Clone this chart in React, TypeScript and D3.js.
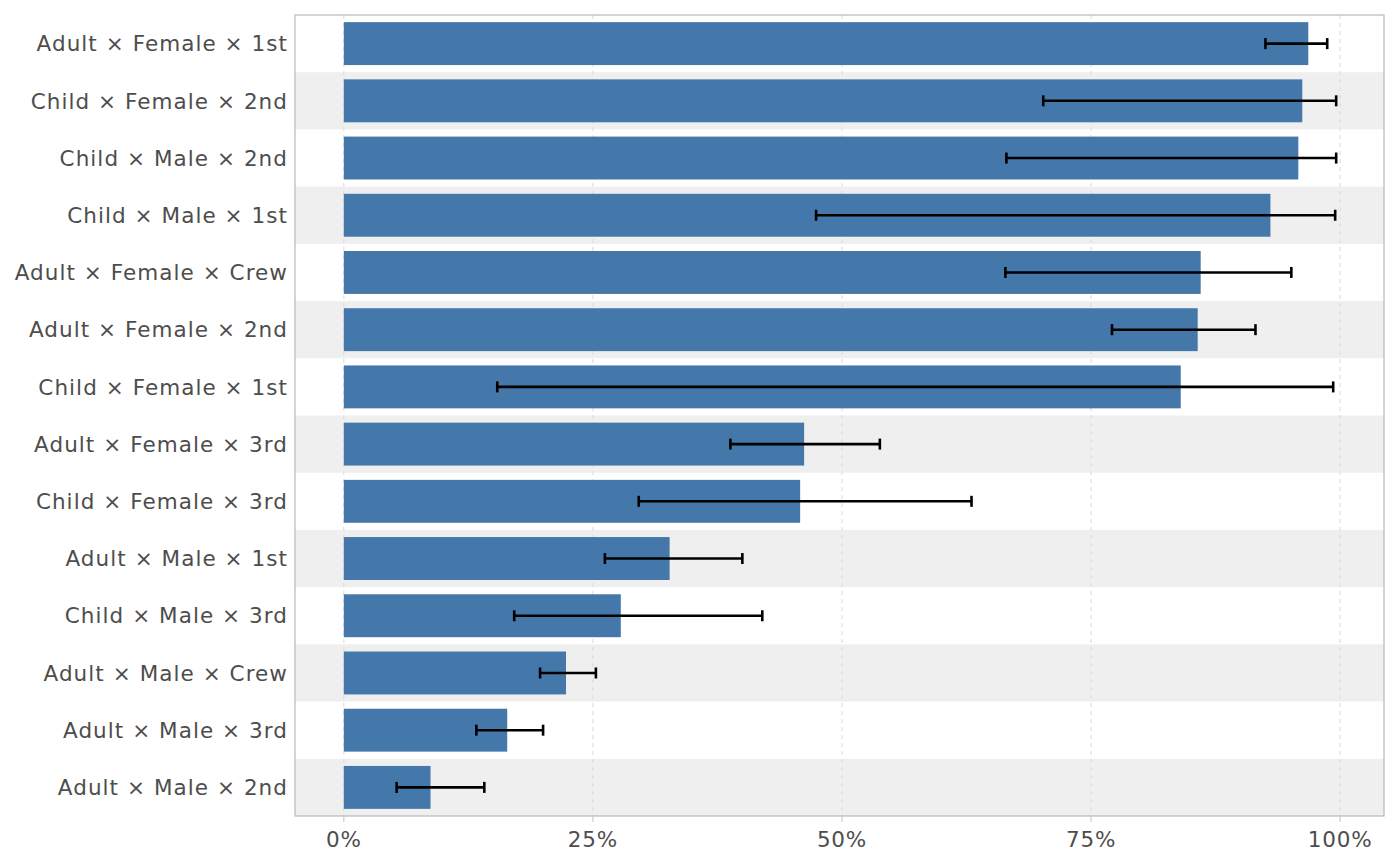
import { useRef, useEffect } from "react";
import * as d3 from "d3";

// groups, top to bottom
const groups = [
  "Adult × Female × 1st",
  "Child × Female × 2nd",
  "Child × Male × 2nd",
  "Child × Male × 1st",
  "Adult × Female × Crew",
  "Adult × Female × 2nd",
  "Child × Female × 1st",
  "Adult × Female × 3rd",
  "Child × Female × 3rd",
  "Adult × Male × 1st",
  "Child × Male × 3rd",
  "Adult × Male × Crew",
  "Adult × Male × 3rd",
  "Adult × Male × 2nd",
];
const rate = [0.968, 0.962, 0.958, 0.93, 0.86, 0.857, 0.84, 0.462, 0.458, 0.327, 0.278, 0.223, 0.164, 0.087];
const lower = [0.925, 0.702, 0.665, 0.474, 0.664, 0.771, 0.154, 0.388, 0.296, 0.262, 0.171, 0.197, 0.133, 0.053];
const upper = [0.987, 0.996, 0.996, 0.995, 0.951, 0.915, 0.993, 0.538, 0.63, 0.4, 0.42, 0.253, 0.2, 0.141];
const ticks = [0, 0.25, 0.5, 0.75, 1];

const W = 1400;
const H = 866;
const FONT = "DejaVu Sans, sans-serif";

export default function App() {
  const ref = useRef(null);

  useEffect(() => {
    const svg = d3.select(ref.current);
    svg.selectAll("*").remove();

    const left = 295, right = 1384, top = 15, bottom = 816;

    const x = d3.scaleLinear().domain([-0.049, 1.044]).range([left, right]);
    const y = d3.scaleBand().domain(groups).range([top, bottom]).padding(0);
    const bh = y.bandwidth() * 0.75;
    const rows = groups.map((g, i) => ({ g, v: rate[i], lo: lower[i], hi: upper[i], i }));

    // striped background
    svg
      .append("g")
      .selectAll("rect")
      .data(rows.filter((d) => d.i % 2 === 1))
      .join("rect")
      .attr("x", left)
      .attr("width", right - left)
      .attr("y", (d) => y(d.g))
      .attr("height", y.bandwidth())
      .attr("fill", "#efefef");

    // grid
    svg
      .append("g")
      .selectAll("line")
      .data(ticks)
      .join("line")
      .attr("x1", (d) => x(d))
      .attr("x2", (d) => x(d))
      .attr("y1", top)
      .attr("y2", bottom)
      .attr("stroke", "#dcdcdc")
      .attr("stroke-width", 1.1)
      .attr("stroke-dasharray", "4,4");

    // bars
    svg
      .append("g")
      .selectAll("rect")
      .data(rows)
      .join("rect")
      .attr("x", x(0))
      .attr("width", (d) => x(d.v) - x(0))
      .attr("y", (d) => y(d.g) + (y.bandwidth() - bh) / 2)
      .attr("height", bh)
      .attr("fill", "#4477aa");

    // error bars
    const eb = svg.append("g").attr("stroke", "#000").attr("stroke-width", 2.6);
    const cy = (d) => y(d.g) + y.bandwidth() / 2;
    eb.selectAll("line.h")
      .data(rows)
      .join("line")
      .attr("class", "h")
      .attr("x1", (d) => x(d.lo))
      .attr("x2", (d) => x(d.hi))
      .attr("y1", cy)
      .attr("y2", cy);
    eb.selectAll("line.lo")
      .data(rows)
      .join("line")
      .attr("class", "lo")
      .attr("x1", (d) => x(d.lo))
      .attr("x2", (d) => x(d.lo))
      .attr("y1", (d) => cy(d) - 5.5)
      .attr("y2", (d) => cy(d) + 5.5);
    eb.selectAll("line.hi")
      .data(rows)
      .join("line")
      .attr("class", "hi")
      .attr("x1", (d) => x(d.hi))
      .attr("x2", (d) => x(d.hi))
      .attr("y1", (d) => cy(d) - 5.5)
      .attr("y2", (d) => cy(d) + 5.5);

    // panel border
    svg
      .append("rect")
      .attr("x", left)
      .attr("y", top)
      .attr("width", right - left)
      .attr("height", bottom - top)
      .attr("fill", "none")
      .attr("stroke", "#b3b3b3")
      .attr("stroke-width", 1.1);

    // x ticks
    svg
      .append("g")
      .selectAll("line")
      .data(ticks)
      .join("line")
      .attr("x1", (d) => x(d))
      .attr("x2", (d) => x(d))
      .attr("y1", bottom)
      .attr("y2", bottom + 6)
      .attr("stroke", "#c8c8c8")
      .attr("stroke-width", 1.1);

    // y labels
    svg
      .append("g")
      .selectAll("text")
      .data(groups)
      .join("text")
      .attr("x", left - 7)
      .attr("y", (d) => y(d) + y.bandwidth() / 2)
      .attr("dy", "0.36em")
      .attr("text-anchor", "end")
      .attr("font-family", FONT)
      .attr("font-size", 21.5)
      .attr("letter-spacing", 1.05)
      .attr("fill", "#4d4d4d")
      .text((d) => d);

    // x labels
    svg
      .append("g")
      .selectAll("text")
      .data(ticks)
      .join("text")
      .attr("x", (d) => x(d))
      .attr("y", bottom + 31)
      .attr("text-anchor", "middle")
      .attr("font-family", FONT)
      .attr("font-size", 21.5)
      .attr("letter-spacing", 0.8)
      .attr("fill", "#4d4d4d")
      .text((d) => d3.format(".0%")(d));
  }, []);

  return (
    <svg
      ref={ref}
      width={W}
      height={H}
      style={{ position: "absolute", left: 0, top: 0, background: "#fff" }}
    ></svg>
  );
}
